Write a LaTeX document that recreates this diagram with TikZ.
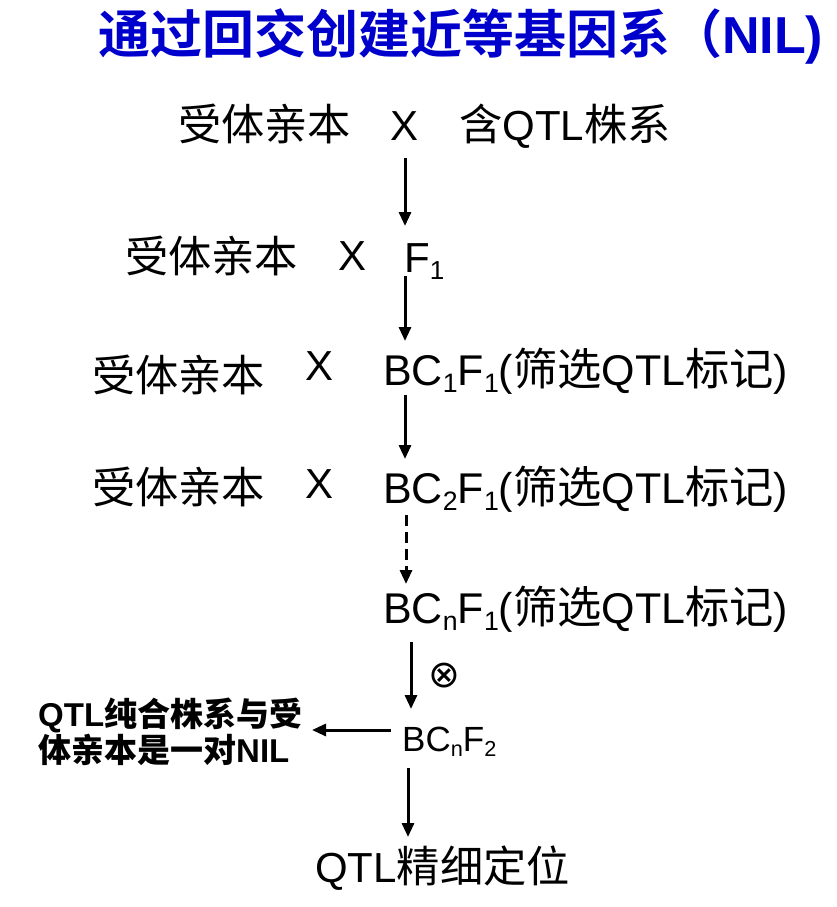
\documentclass[tikz,border=0pt]{standalone}
\usepackage{fontspec}
\setmainfont{Liberation Sans}
\newfontfamily\cjk[Scale=1.03]{Noto Sans CJK SC}
\newfontfamily\cjkb{Noto Sans CJK SC Bold}
\newfontfamily\sym{DejaVu Sans}
\usetikzlibrary{arrows.meta}
\newcommand\sbs[1]{\raisebox{-0.17em}{\scalebox{0.62}{#1}}}
\definecolor{titleblue}{RGB}{0,0,204}
\begin{document}
\begin{tikzpicture}[x=1pt,y=-1pt,
  txt/.style={inner sep=0pt,anchor=base west,font=\fontsize{42}{50}\selectfont},
  big/.style={inner sep=0pt,anchor=base west,font=\fontsize{43}{50}\selectfont},
  small/.style={inner sep=0pt,anchor=base west,font=\fontsize{35}{40}\selectfont},
  arr/.style={line width=3pt,-{Triangle[length=14pt,width=12pt]}}]
\useasboundingbox (0,0) rectangle (837,907);
\node[inner sep=0pt,anchor=base west,text=titleblue,font=\fontsize{52}{56}\selectfont] (title) at (98,53) {{\cjkb 通过回交创建近等基因系（}\textbf{NIL)}};
% row 1
\node[txt] (r1a) at (178,140) {\cjk 受体亲本};
\node[txt] (r1x) at (390,140) {X};
\node[txt] (r1b) at (459,140) {{\cjk 含}QTL{\cjk 株系}};
% row 2
\node[txt] (r2a) at (125,272) {\cjk 受体亲本};
\node[txt] (r2x) at (338,270) {X};
\node[txt] (r2b) at (404,272) {F\sbs{1}};
% row 3
\node[txt] (r3a) at (92,391) {\cjk 受体亲本};
\node[txt] (r3x) at (305,380) {X};
\node[big] (r3b) at (383,385) {BC\sbs{1}F\sbs{1}({\cjk 筛选}QTL{\cjk 标记})};
% row 4
\node[txt] (r4a) at (92,503) {\cjk 受体亲本};
\node[txt] (r4x) at (305,498) {X};
\node[big] (r4b) at (383,503) {BC\sbs{2}F\sbs{1}({\cjk 筛选}QTL{\cjk 标记})};
% row 5
\node[big] (r5b) at (383,623) {BC\sbs{n}F\sbs{1}({\cjk 筛选}QTL{\cjk 标记})};
\node[inner sep=0pt,font=\fontsize{38}{38}\sym] (self) at (444,676) {⊗};
% BCnF2
\node[small] (f2) at (402,751) {BC\sbs{n}F\sbs{2}};
\node[inner sep=0pt,anchor=base west,font=\fontsize{33}{33}\selectfont\bfseries,align=left] (nil) at (38,762) {QTL{\cjkb 纯合株系与受}\\{\cjkb 体亲本是一对}NIL};
% final
\node[txt] (fin) at (315,882) {QTL{\cjk 精细定位}};
% arrows
\coordinate (a1s) at (405,158); \coordinate (a1e) at (405,226);
\coordinate (a2s) at (405,276); \coordinate (a2e) at (405,341);
\coordinate (a3s) at (405,395); \coordinate (a3e) at (405,459);
\coordinate (a4s) at (406,515); \coordinate (a4e) at (406,584);
\coordinate (a5s) at (411,642); \coordinate (a5e) at (411,709);
\coordinate (a6s) at (391,730); \coordinate (a6e) at (312,730);
\coordinate (a7s) at (408,768); \coordinate (a7e) at (408,837);
\draw[arr] (a1s) -- (a1e);
\draw[arr] (a2s) -- (a2e);
\draw[arr] (a3s) -- (a3e);
\draw[arr,dash pattern=on 11pt off 6pt] (a4s) -- (a4e);
\draw[arr] (a5s) -- (a5e);
\draw[arr] (a6s) -- (a6e);
\draw[arr] (a7s) -- (a7e);
\end{tikzpicture}
\end{document}
